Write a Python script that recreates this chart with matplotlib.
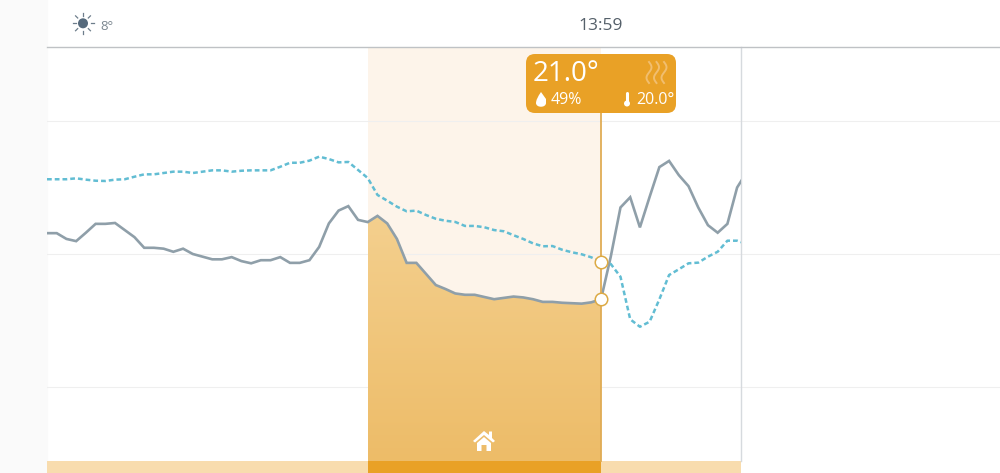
import numpy as np
import matplotlib
matplotlib.use("Agg")
import matplotlib.pyplot as plt
from matplotlib.patches import Circle, FancyBboxPatch, PathPatch, Polygon, Rectangle
from matplotlib.path import Path

plt.rcParams['font.family'] = ['Open Sans', 'DejaVu Sans']

# one reading per sample
temperature = [22.47, 22.47, 22.34, 22.29, 22.48, 22.68, 22.68, 22.70, 22.54, 22.38,
               22.14, 22.14, 22.12, 22.05, 22.12, 22.00, 21.94, 21.88, 21.88, 21.93,
               21.84, 21.79, 21.86, 21.86, 21.93, 21.80, 21.80, 21.86, 22.16, 22.69,
               22.98, 23.08, 22.77, 22.72, 22.86, 22.69, 22.34, 21.80, 21.80, 21.55,
               21.30, 21.21, 21.11, 21.08, 21.08, 21.03, 20.98, 21.01, 21.04, 21.02,
               20.98, 20.92, 20.92, 20.90, 20.89, 20.88, 20.91, 20.98, 21.94, 23.05,
               23.28, 22.60, 23.29, 23.96, 24.10, 23.78, 23.53, 23.05, 22.65, 22.48,
               22.68, 23.50, 23.85]
humidity = [55.62, 55.62, 55.62, 55.69, 55.59, 55.51, 55.49, 55.59, 55.62, 55.81,
            55.99, 55.99, 56.09, 56.19, 56.19, 56.09, 56.19, 56.29, 56.29, 56.19,
            56.26, 56.29, 56.29, 56.29, 56.56, 56.86, 56.86, 57.02, 57.32, 57.14,
            56.89, 56.92, 56.32, 55.71, 54.44, 54.01, 53.56, 53.21, 53.26, 52.93,
            52.65, 52.50, 52.41, 52.11, 52.11, 52.01, 51.80, 51.71, 51.41, 51.13,
            50.80, 50.58, 50.60, 50.32, 50.13, 49.98, 49.75, 49.42, 49.25, 48.29,
            45.09, 44.53, 44.91, 46.59, 48.42, 48.85, 49.30, 49.35, 49.80, 50.17,
            51.00, 51.00, 50.75]
humidity_grid = [40, 50, 60]
home_start = 33.0
cursor = 57
chart_end = 71.4
time_label = "13:59"
outside_label = "8°"
cursor_temp = "21.0°"
cursor_humidity = "49%"
cursor_setpoint = "20.0°"

samples = np.arange(len(temperature))
W, H = 1000, 473
ORANGE = "#e9a126"
PX_PER_SAMPLE = 9.72

fig = plt.figure(figsize=(W / 100, H / 100), dpi=100, facecolor="white")
fig.add_artist(Rectangle((0, 0), 47 / W, 1, transform=fig.transFigure, color="#fafafa"))

# temperature axes sits under the humidity one, both share the x samples
ax_t = fig.add_axes([47 / W, 0, 953 / W, 1])
ax_h = ax_t.twinx()
ax_t.set_zorder(1)
ax_h.set_zorder(2)

bar = 12 / H
top = (H - 47) / H

ax_t.axvspan(0, chart_end, ymin=0, ymax=bar, color="#f8dcae", lw=0, zorder=1)
ax_t.axvspan(home_start, cursor, ymin=0, ymax=bar, color=ORANGE, lw=0, zorder=4)
ax_t.axvspan(home_start, cursor, ymin=bar, ymax=top, color="#fdf4ea", lw=0, zorder=1)

for g in humidity_grid:
    ax_t.axhline(22 + (g - 50) * 13.3 / 44.33, color="#efefef", lw=0.8, zorder=2)

# gradient under the temperature line
grad = np.linspace(0, 1, 256).reshape(-1, 1, 1)
c0 = np.array(matplotlib.colors.to_rgb("#f4d08f")).reshape(1, 1, 3)
c1 = np.array(matplotlib.colors.to_rgb("#edbc68")).reshape(1, 1, 3)
img = ax_t.imshow(c0 + (c1 - c0) * grad, aspect="auto", zorder=3,
                  extent=[home_start, cursor, 17.33, 23.0], origin="upper")
xs = np.r_[home_start, samples[33:cursor + 1], cursor]
ys = np.r_[17.33, temperature[33:cursor + 1], 17.33]
poly = Polygon(np.c_[xs, ys], transform=ax_t.transData, fc="none", ec="none")
ax_t.add_patch(poly)
img.set_clip_path(poly)

clip_t = Rectangle((0, 0), chart_end, 1, transform=ax_t.get_xaxis_transform())
clip_h = Rectangle((0, 0), chart_end, 1, transform=ax_h.get_xaxis_transform())

line_t, = ax_t.plot(samples, temperature, color="#8f9fa9", lw=1.9, zorder=5, solid_joinstyle="miter")
line_t.set_clip_path(clip_t)
line_h, = ax_h.plot(samples, humidity, color="#62bdd3", lw=1.8, ls=(0, (1.9, 1.2)), zorder=5)
line_h.set_clip_path(clip_h)

ax_t.axvline(chart_end, ymin=bar, ymax=top, color="#d6dade", lw=1.0, zorder=4)
ax_h.axvline(cursor, ymin=bar, ymax=(H - 113) / H, color="#e0ac55", lw=1.3, zorder=6)

ax_h.plot([cursor], [humidity[cursor]], "o", ms=9, mfc="white", mec="#dcaa45", mew=1.1, zorder=7)
ax_h.plot([cursor], [50 + (temperature[cursor] - 22) * 44.33 / 13.3], "o", ms=9, mfc="white",
          mec="#dcaa45", mew=1.1, zorder=7)

ax_t.set_xlim(0, 953 / PX_PER_SAMPLE)
ax_h.set_xlim(0, 953 / PX_PER_SAMPLE)
ax_t.set_ylim(22 + (254 - H) / 44.33, 22 + 254 / 44.33)
ax_h.set_ylim(50 + (254 - H) / 13.3, 50 + 254 / 13.3)
ax_t.axis("off")
ax_h.axis("off")

# header, tooltip and icons, in pixels of the picture
deco = fig.add_axes([0, 0, 1, 1], zorder=5)
deco.set_xlim(0, W)
deco.set_ylim(H, 0)
deco.axis("off")

deco.plot([47, W], [47, 47], color="#bfc2c5", lw=1.0)

sun = (83, 23.3)
deco.add_patch(Circle(sun, 5, color="#566a7c", lw=0))
for a in np.arange(8) * np.pi / 4:
    deco.plot([sun[0] + 7.5 * np.cos(a), sun[0] + 10.5 * np.cos(a)],
              [sun[1] + 7.5 * np.sin(a), sun[1] + 10.5 * np.sin(a)], color="#6d7d8b", lw=0.9)
deco.text(100, 26, outside_label, fontsize=9.5, color="#7b8790", va="center", ha="left")
deco.text(601, 26, time_label, fontsize=12.5, color="#55606a", va="center", ha="center")

deco.add_patch(FancyBboxPatch((526 + 9, 54 + 9), 150 - 18, 59 - 18,
                              boxstyle="round,pad=9", fc=ORANGE, ec="none", zorder=2))
deco.text(533, 74, cursor_temp, fontsize=20, color="white", va="center", ha="left", zorder=3)
deco.text(551, 100, cursor_humidity, fontsize=11.5, color="white", va="center", ha="left", zorder=3)
deco.text(674.5, 100, cursor_setpoint, fontsize=11.5, color="white", va="center", ha="right", zorder=3)

# droplet
drop = Path([(541, 92), (536, 99), (536, 103), (536, 108), (546, 108), (546, 103), (546, 99), (541, 92)],
            [Path.MOVETO, Path.CURVE3, Path.CURVE3, Path.CURVE4, Path.CURVE4, Path.CURVE4,
             Path.LINETO, Path.LINETO])
deco.add_patch(PathPatch(drop, fc="white", ec="none", zorder=3))

# thermometer
deco.plot([627, 627], [93.5, 103], color="white", lw=2.2, solid_capstyle="round", zorder=3)
deco.add_patch(Circle((627, 103.5), 3, color="white", lw=0, zorder=3))

# heat waves
wy = np.linspace(62, 83, 50)
for wx in (649, 656.5, 664):
    deco.plot(wx + 2.5 * np.sin((wy - 62) / 21 * 2 * np.pi), wy, color="#f1be6f", lw=1.4, zorder=3)

# house
deco.add_patch(Polygon([(473, 441), (484, 431), (489, 435), (489, 431.5), (492, 431.5), (492, 438),
                        (495, 441), (493, 442.5), (484, 435), (475, 442.5)], fc="white", ec="none"))
deco.add_patch(Polygon([(477, 443), (484, 437), (491, 443), (491, 451), (486.5, 451), (486.5, 445),
                        (481.5, 445), (481.5, 451), (477, 451)], fc="white", ec="none"))

fig.savefig("out.png", dpi=100)
